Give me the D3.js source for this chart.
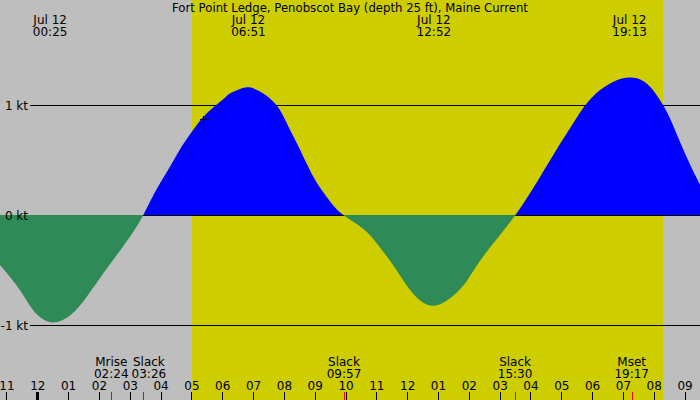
<!DOCTYPE html>
<html>
<head>
<meta charset="utf-8">
<script src="https://cdn.jsdelivr.net/npm/d3@7"></script>
<style>
  body { margin: 0; background: #bebebe; }
  svg { display: block; font-family: "DejaVu Sans", sans-serif; font-size: 12px; }
</style>
</head>
<body>
<div id="chart"></div>
<script>
// hours relative to Jul 12 00:00, values in knots
const flowHours = [-1.21, -0.56, -0.14, 0.42, 1.06, 1.6, 2.03, 2.58, 3.11, 3.43, 3.74, 4.04, 4.36, 4.69, 5.06, 5.5, 6.04, 6.25, 6.58, 6.88, 7.33, 7.77, 8.04, 8.25, 8.47, 8.69, 8.96, 9.23, 9.55, 9.95, 10.57, 11.12, 11.66, 12.19, 12.87, 13.61, 14.04, 14.58, 15.5, 16.31, 16.85, 17.39, 17.77, 18.26, 18.8, 19.22, 19.77, 20.31, 20.64, 21.07, 21.5];
const flowKnots = [-0.45, -0.68, -0.86, -0.97, -0.91, -0.74, -0.57, -0.36, -0.15, 0, 0.17, 0.32, 0.47, 0.63, 0.78, 0.93, 1.06, 1.11, 1.15, 1.165, 1.11, 1.0, 0.87, 0.75, 0.63, 0.5, 0.35, 0.23, 0.11, 0, -0.12, -0.29, -0.5, -0.71, -0.82, -0.7, -0.55, -0.33, 0, 0.35, 0.6, 0.84, 1.0, 1.14, 1.23, 1.255, 1.2, 1.0, 0.81, 0.53, 0.28];

const extremeTimes = ["00:25", "06:51", "12:52", "19:13"];
const eventNames = ["Mrise", "Slack", "Slack", "Slack", "Mset"];
const eventTimes = ["02:24", "03:26", "09:57", "15:30", "19:17"];
const levelTicks = [1, 0, -1];
const sunrise = "05:01", sunset = "20:18";
const nowTime = "05:23", nowKnots = 0.88;
const title = "Fort Point Ledge, Penobscot Bay (depth 25 ft), Maine Current";

const width = 700, height = 400;
const base = new Date(2000, 6, 12);
const at = h => new Date(base.getTime() + h * 3600e3);
const hm = s => { const [h, m] = s.split(":").map(Number); return at(h + m / 60); };

const x = d3.scaleTime().domain([at(-1.21), at(21.5)]).range([0, width]);
const y = d3.scaleLinear().domain([0, 1]).range([215.5, 105.5]);

const svg = d3.select("#chart").append("svg")
  .attr("width", width).attr("height", height);

// background + daylight
svg.append("rect").attr("width", width).attr("height", height).attr("fill", "#bebebe");
svg.append("rect")
  .attr("x", x(hm(sunrise))).attr("width", x(hm(sunset)) - x(hm(sunrise)))
  .attr("y", 0).attr("height", height).attr("fill", "#cdcd00");

// level lines (under the curve)
svg.append("g").selectAll("line").data(levelTicks).join("line")
  .attr("x1", 30).attr("x2", width)
  .attr("y1", d => y(d)).attr("y2", d => y(d))
  .attr("stroke", "black").attr("shape-rendering", "crispEdges");

// current curve
const pts = flowHours.map((h, i) => ({ t: at(h), v: flowKnots[i] }));
const zeroY = 215;
const area = d3.area()
  .x(d => x(d.t)).y0(zeroY).y1(d => y(d.v))
  .curve(d3.curveNatural);

const defs = svg.append("defs");
defs.append("clipPath").attr("id", "above")
  .append("rect").attr("x", 0).attr("y", 0).attr("width", width).attr("height", zeroY);
defs.append("clipPath").attr("id", "below")
  .append("rect").attr("x", 0).attr("y", zeroY).attr("width", width).attr("height", height - zeroY);

svg.append("path").datum(pts).attr("d", area)
  .attr("fill", "#0000ff").attr("clip-path", "url(#above)");
svg.append("path").datum(pts).attr("d", area)
  .attr("fill", "#2e8b57").attr("clip-path", "url(#below)");

// level labels on top
svg.append("g").selectAll("text").data(levelTicks).join("text")
  .attr("x", 28).attr("y", d => y(d) + 4.5)
  .attr("text-anchor", "end")
  .text(d => d + " kt");

// now marker
const nx = Math.round(x(hm(nowTime))) + 0.5, ny = Math.round(y(nowKnots)) + 0.5;
svg.append("path")
  .attr("d", `M${nx - 4},${ny}H${nx + 5}M${nx},${ny - 4}V${ny + 5}`)
  .attr("stroke", "black").attr("shape-rendering", "crispEdges");

// title
svg.append("text").attr("x", 350).attr("y", 12)
  .attr("text-anchor", "middle").attr("font-size", 11.7).text(title);

// max / min labels
const peaks = svg.append("g").selectAll("g").data(extremeTimes).join("g")
  .attr("transform", d => `translate(${x(hm(d))},0)`)
  .attr("text-anchor", "middle");
peaks.append("text").attr("y", 24).text("Jul 12");
peaks.append("text").attr("y", 36).text(d => d);

// hour axis
const axis = d3.axisTop(x)
  .ticks(d3.timeHour.every(1))
  .tickFormat(d3.timeFormat("%I"))
  .tickSize(8).tickPadding(2);
const gx = svg.append("g").attr("transform", `translate(0,${height})`).call(axis);
gx.select(".domain").remove();
gx.selectAll("text").attr("font-family", "DejaVu Sans, sans-serif").attr("font-size", 12).attr("fill", "black");
gx.selectAll(".tick line").attr("stroke", "black").attr("shape-rendering", "crispEdges")
  .attr("stroke-width", d => d.getHours() === 0 ? 3 : 1);

// events
svg.append("g").selectAll("line").data(eventTimes).join("line")
  .attr("x1", d => Math.round(x(hm(d))) + 0.5).attr("x2", d => Math.round(x(hm(d))) + 0.5)
  .attr("y1", 392).attr("y2", height)
  .attr("stroke", "red").attr("shape-rendering", "crispEdges");

const ev = svg.append("g").selectAll("g").data(eventTimes).join("g")
  .attr("text-anchor", "middle");
ev.append("text").attr("y", 366).text((d, i) => eventNames[i]);
ev.append("text").attr("y", 377.5).text(d => d);

// push labels right when they would collide with the previous one
let prevRight = -Infinity;
ev.each(function(d) {
  const w = this.getBBox().width;
  let cx = x(hm(d));
  if (cx - w / 2 < prevRight + 3) cx = prevRight + 3 + w / 2;
  d3.select(this).attr("transform", `translate(${cx},0)`);
  prevRight = cx + w / 2;
});
</script>
</body>
</html>
